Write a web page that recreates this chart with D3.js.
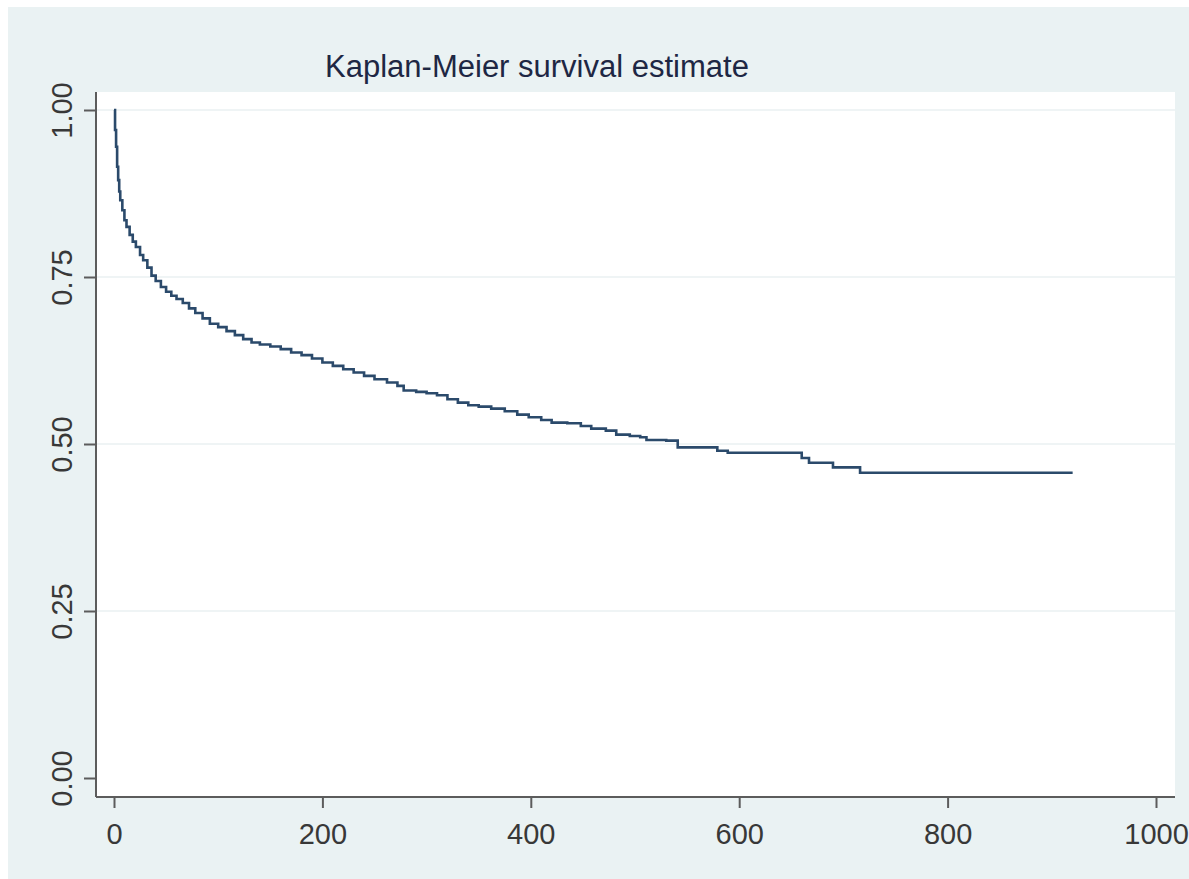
<!DOCTYPE html>
<html>
<head>
<meta charset="utf-8">
<script src="https://cdn.jsdelivr.net/npm/d3@7"></script>
<style>
  body { margin: 0; background: #ffffff; }
  text { font-family: "Liberation Sans", Arial, sans-serif; }
</style>
</head>
<body>
<svg id="chart"></svg>
<script>
// analysis time (days) and KM survival estimate
var times = [0, 1, 2, 3, 4, 5, 6, 8, 10, 12, 15, 18, 21, 25, 28, 32, 36, 40, 45, 50,
             55, 60, 66, 72, 78, 85, 92, 100, 108, 116, 124, 132, 140, 150, 160, 170,
             180, 190, 200, 210, 220, 230, 240, 250, 262, 272, 278, 290, 300, 310, 320,
             330, 340, 350, 362, 375, 387, 398, 410, 420, 435, 448, 458, 472, 482, 495,
             505, 511, 530, 541, 579, 589, 660, 667, 690, 716, 920];
var survival = [1.000, 0.970, 0.945, 0.915, 0.895, 0.878, 0.865, 0.850, 0.835, 0.825,
                0.813, 0.803, 0.795, 0.783, 0.775, 0.764, 0.752, 0.744, 0.735, 0.728,
                0.722, 0.717, 0.711, 0.703, 0.696, 0.688, 0.680, 0.675, 0.669, 0.663,
                0.657, 0.652, 0.649, 0.646, 0.642, 0.637, 0.633, 0.628, 0.622, 0.617,
                0.612, 0.607, 0.602, 0.597, 0.592, 0.587, 0.580, 0.578, 0.576, 0.573,
                0.567, 0.562, 0.558, 0.556, 0.553, 0.549, 0.544, 0.540, 0.536, 0.532,
                0.531, 0.527, 0.523, 0.520, 0.514, 0.512, 0.510, 0.506, 0.505, 0.495,
                0.490, 0.487, 0.479, 0.472, 0.465, 0.457, 0.457];
var xTicks = [0, 200, 400, 600, 800, 1000];
var yTicks = [0, 0.25, 0.5, 0.75, 1];
var title = "Kaplan-Meier survival estimate";

var W = 1189, H = 879;
var svg = d3.select("#chart").attr("width", W).attr("height", H);

// outer graph region (Stata s2color)
svg.append("rect").attr("x", 0).attr("y", 0).attr("width", W).attr("height", H).attr("fill", "#ffffff");
svg.append("rect").attr("x", 8).attr("y", 7).attr("width", W - 8).attr("height", H - 7).attr("fill", "#eaf2f3");

var plot = {left: 96, top: 92, right: 1175, bottom: 797};
svg.append("rect")
    .attr("x", plot.left).attr("y", plot.top)
    .attr("width", plot.right - plot.left).attr("height", plot.bottom - plot.top)
    .attr("fill", "#ffffff");

var x = d3.scaleLinear().domain([0, 1000]).range([114, 1156]);
var y = d3.scaleLinear().domain([0, 1]).range([778, 110]);

// gridlines
svg.selectAll(".grid")
    .data(yTicks.filter(function(d){ return d > 0; }))
    .enter()
    .append("line")
    .attr("x1", plot.left + 1).attr("x2", plot.right)
    .attr("y1", function(d){ return y(d); })
    .attr("y2", function(d){ return y(d); })
    .attr("stroke", "#eaf0f2")
    .attr("stroke-width", 1.5);

// y axis
var yAxis = svg.append("g")
    .attr("transform", "translate(" + plot.left + ",0)")
    .call(d3.axisLeft(y).tickValues(yTicks).tickSize(12).tickFormat(d3.format(".2f")));
yAxis.select(".domain").attr("d", "M0," + plot.top + "V" + plot.bottom)
    .attr("stroke", "#5c5c5c").attr("stroke-width", 2);
yAxis.selectAll(".tick line").attr("stroke", "#5c5c5c").attr("stroke-width", 2);
yAxis.selectAll(".tick text")
    .attr("x", null).attr("dy", null)
    .attr("transform", "translate(-24,0) rotate(-90)")
    .attr("text-anchor", "middle")
    .style("font-size", "29px")
    .attr("fill", "#383838");

// x axis
var xAxis = svg.append("g")
    .attr("transform", "translate(0," + plot.bottom + ")")
    .call(d3.axisBottom(x).tickValues(xTicks).tickSize(11).tickFormat(d3.format("d")));
xAxis.select(".domain").attr("d", "M" + plot.left + ",0H" + plot.right)
    .attr("stroke", "#5c5c5c").attr("stroke-width", 2);
xAxis.selectAll(".tick line").attr("stroke", "#5c5c5c").attr("stroke-width", 2);
xAxis.selectAll(".tick text")
    .attr("y", 47).attr("dy", null)
    .style("font-size", "29px")
    .attr("fill", "#383838");

// survival curve
var pts = times.map(function(t, i){ return [t, survival[i]]; });
var line = d3.line()
    .x(function(d){ return x(d[0]); })
    .y(function(d){ return y(d[1]); })
    .curve(d3.curveStepAfter);
svg.append("path")
    .datum(pts)
    .attr("d", line)
    .attr("fill", "none")
    .attr("stroke", "#2b4a6b")
    .attr("stroke-width", 2.6);

// title
svg.append("text")
    .attr("x", 537).attr("y", 77)
    .attr("text-anchor", "middle")
    .style("font-size", "31px")
    .attr("fill", "#1e2744")
    .text(title);
</script>
</body>
</html>
